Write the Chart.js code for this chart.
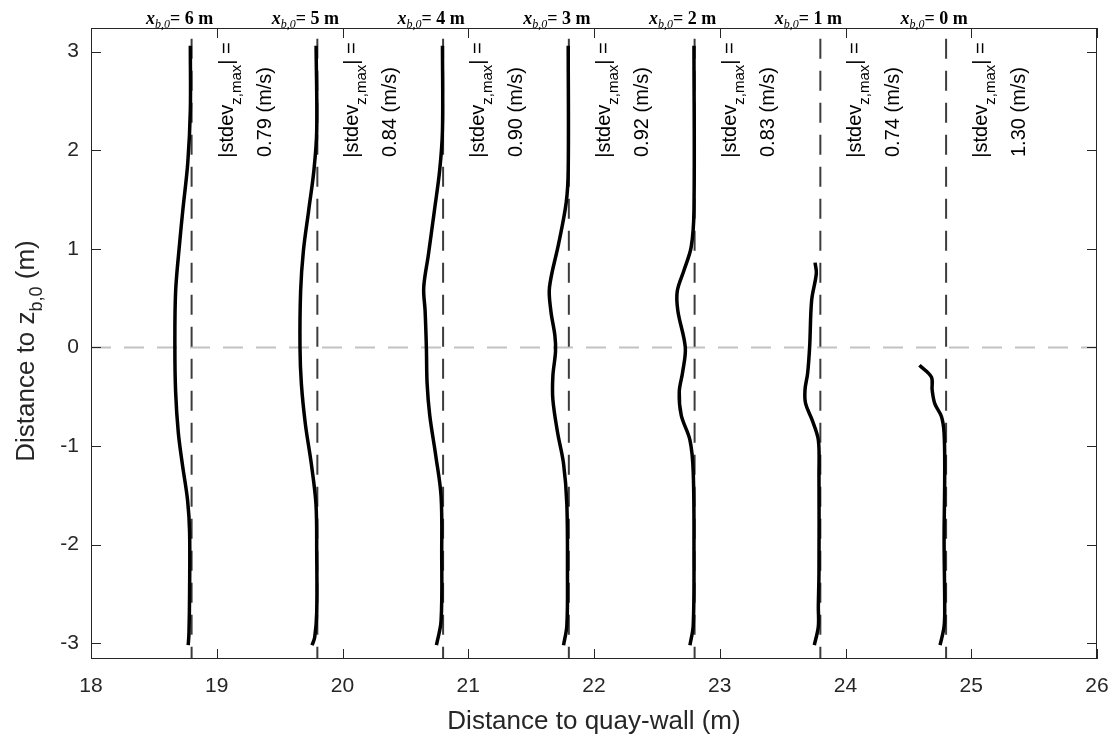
<!DOCTYPE html>
<html>
<head>
<meta charset="utf-8">
<script src="https://cdn.jsdelivr.net/npm/chart.js@4/dist/chart.umd.min.js"></script>
<style>
  body { margin: 0; background: #fff; }
  #wrap { width: 1116px; height: 740px; }
</style>
</head>
<body>
<div id="wrap"><canvas id="chart" width="1116" height="740"></canvas></div>
<script>
  /*======= data =======*/

  // x_b,0 of each profile and the dashed reference line (m)
  var xb0 = [6, 5, 4, 3, 2, 1, 0];
  var dashX = [18.8, 19.8, 20.8, 21.8, 22.8, 23.8, 24.8];
  var dashTop = 3.13, dashBottom = -3.2;
  var stdevMax = ['0.79', '0.84', '0.90', '0.92', '0.83', '0.74', '1.30'];

  // profiles: z (m) and x (m)
  var z1 = [3.06, 2.41, 1.88, 1.39, 1.06, 0.57, 0.0, -0.45, -0.86, -1.18, -1.55, -1.87, -2.49, -2.90, -3.02];
  var x1 = [18.790, 18.790, 18.770, 18.730, 18.705, 18.673, 18.667, 18.673, 18.694, 18.726, 18.768, 18.784, 18.784, 18.779, 18.773];

  var z2 = [3.06, 2.20, 1.80, 1.39, 0.98, 0.57, 0.0, -0.37, -0.78, -1.18, -1.59, -2.08, -2.69, -2.94, -3.02];
  var x2 = [19.790, 19.795, 19.773, 19.731, 19.689, 19.667, 19.662, 19.673, 19.705, 19.752, 19.789, 19.795, 19.795, 19.779, 19.758];

  var z3 = [3.06, 2.20, 1.80, 1.39, 0.94, 0.61, 0.37, 0.0, -0.37, -0.69, -1.10, -1.51, -2.08, -2.77, -3.02];
  var x3 = [20.795, 20.795, 20.773, 20.731, 20.683, 20.646, 20.657, 20.667, 20.673, 20.694, 20.742, 20.784, 20.789, 20.784, 20.747];

  var z4 = [3.06, 1.80, 1.47, 1.06, 0.61, 0.37, 0.12, -0.04, -0.29, -0.53, -0.86, -1.18, -1.59, -2.29, -2.82, -3.02];
  var x4 = [21.795, 21.795, 21.779, 21.720, 21.646, 21.657, 21.689, 21.694, 21.673, 21.673, 21.710, 21.758, 21.784, 21.789, 21.784, 21.758];

  var z5 = [3.06, 1.39, 1.02, 0.78, 0.57, 0.37, 0.0, -0.25, -0.45, -0.69, -0.94, -1.26, -2.08, -2.82, -3.02];
  var x5 = [22.795, 22.795, 22.773, 22.715, 22.662, 22.667, 22.726, 22.705, 22.678, 22.694, 22.763, 22.789, 22.795, 22.789, 22.763];

  var z6 = [0.86, 0.75, 0.48, 0.01, -0.26, -0.43, -0.57, -0.74, -0.94, -1.28, -2.29, -2.63, -2.83, -3.02];
  var x6 = [23.758, 23.768, 23.731, 23.715, 23.699, 23.678, 23.683, 23.736, 23.784, 23.789, 23.789, 23.784, 23.784, 23.752];

  var z7 = [-0.18, -0.30, -0.43, -0.57, -0.70, -0.87, -1.28, -1.95, -2.63, -2.83, -3.02];
  var x7 = [24.588, 24.683, 24.689, 24.710, 24.763, 24.784, 24.789, 24.784, 24.789, 24.784, 24.752];

  var xTicks = [18, 19, 20, 21, 22, 23, 24, 25, 26];
  var yTicks = [-3, -2, -1, 0, 1, 2, 3];
  var xRange = [18, 26], yRange = [-3.16, 3.24];

  /*======= build datasets =======*/

  var AXIS = '#262626';
  var SANS = '"Liberation Sans", Arial, sans-serif';
  var SERIF = '"Liberation Serif", "Times New Roman", serif';

  function pts(xs, zs) {
    return xs.map(function(v, i) { return { x: v, y: zs[i] }; });
  }

  var datasets = [];
  var profiles = [[x1, z1], [x2, z2], [x3, z3], [x4, z4], [x5, z5], [x6, z6], [x7, z7]];
  profiles.forEach(function(p) {
    datasets.push({
      data: pts(p[0], p[1]),
      borderColor: '#000',
      borderWidth: 3.5,
      tension: 0.35,
      pointRadius: 0,
      order: 1
    });
  });
  dashX.forEach(function(v) {
    datasets.push({
      data: [{ x: v, y: dashTop }, { x: v, y: dashBottom }],
      borderColor: '#3c3c3c',
      borderWidth: 2,
      borderDash: [20, 12],
      pointRadius: 0,
      order: 2
    });
  });
  datasets.push({
    data: [{ x: xRange[0], y: 0 }, { x: xRange[1], y: 0 }],
    borderColor: '#c2c2c2',
    borderWidth: 2,
    borderDash: [20, 13],
    pointRadius: 0,
    order: 3
  });

  /*======= text helper (sub-scripts) =======*/

  function richWidth(ctx, parts) {
    var w = 0;
    parts.forEach(function(p) { ctx.font = p.f; w += ctx.measureText(p.t).width; });
    return w;
  }
  function drawRich(ctx, parts, x, y, rot) {
    ctx.save();
    ctx.translate(x, y);
    ctx.rotate(rot || 0);
    ctx.textBaseline = 'alphabetic';
    ctx.textAlign = 'left';
    var cx = -richWidth(ctx, parts) / 2;
    parts.forEach(function(p) {
      ctx.font = p.f;
      ctx.fillText(p.t, cx, p.dy || 0);
      cx += ctx.measureText(p.t).width;
    });
    ctx.restore();
  }

  /*======= frame, inward ticks, labels =======*/

  var decor = {
    id: 'decor',
    afterDatasetsDraw: function(chart) {
      var ctx = chart.ctx, a = chart.chartArea;
      var xs = chart.scales.x, ys = chart.scales.y;
      ctx.save();
      ctx.strokeStyle = AXIS;
      ctx.lineWidth = 1;
      ctx.strokeRect(a.left + 0.5, a.top + 0.5, a.right - a.left - 1, a.bottom - a.top - 1);
      ctx.beginPath();
      xTicks.forEach(function(v) {
        var px = Math.round(xs.getPixelForValue(v)) + 0.5;
        ctx.moveTo(px, a.bottom); ctx.lineTo(px, a.bottom - 10);
        ctx.moveTo(px, a.top); ctx.lineTo(px, a.top + 10);
      });
      yTicks.forEach(function(v) {
        var py = Math.round(ys.getPixelForValue(v)) + 0.5;
        ctx.moveTo(a.left, py); ctx.lineTo(a.left + 10, py);
        ctx.moveTo(a.right, py); ctx.lineTo(a.right - 10, py);
      });
      ctx.stroke();

      ctx.fillStyle = '#000';
      dashX.forEach(function(v, i) {
        var bx = xs.getPixelForValue(v);
        // top label  x_b,0 = n m
        drawRich(ctx, [
          { t: 'x', f: 'italic bold 18px ' + SERIF },
          { t: 'b,0', f: 'italic 12px ' + SERIF, dy: 4 },
          { t: '= ' + xb0[i] + ' m', f: 'bold 18px ' + SERIF }
        ], bx - 12, a.top - 4, 0);
        // vertical annotations
        drawRich(ctx, [
          { t: '|stdev', f: '20px ' + SANS },
          { t: 'z,max', f: '15px ' + SANS, dy: 8 },
          { t: '| =', f: '20px ' + SANS }
        ], bx + 41, a.top + 72, -Math.PI / 2);
        drawRich(ctx, [
          { t: stdevMax[i] + ' (m/s)', f: '20px ' + SANS }
        ], bx + 79, a.top + 84, -Math.PI / 2);
      });

      // axis titles
      ctx.fillStyle = AXIS;
      drawRich(ctx, [{ t: 'Distance to quay-wall (m)', f: '26px ' + SANS }],
        (a.left + a.right) / 2, 729, 0);
      drawRich(ctx, [
        { t: 'Distance to z', f: '26px ' + SANS },
        { t: 'b,0', f: '18px ' + SANS, dy: 8 },
        { t: ' (m)', f: '26px ' + SANS }
      ], 34, 351, -Math.PI / 2);
      ctx.restore();
    }
  };

  /*======= chart =======*/

  var ctx = document.getElementById('chart');
  var myChart = new Chart(ctx, {
    type: 'line',
    data: { datasets: datasets },
    options: {
      responsive: false,
      animation: false,
      devicePixelRatio: 1,
      layout: { padding: { left: 0, top: 28, right: 19, bottom: 0 } },
      plugins: { legend: { display: false }, tooltip: { enabled: false } },
      scales: {
        x: {
          type: 'linear',
          min: xRange[0], max: xRange[1],
          afterBuildTicks: function(s) { s.ticks = xTicks.map(function(v) { return { value: v }; }); },
          afterFit: function(s) { s.height = 81; s.paddingLeft = 0; s.paddingRight = 0; },
          grid: { display: false, drawTicks: false },
          border: { display: false },
          ticks: { color: AXIS, font: { family: SANS, size: 21 }, padding: 15, maxRotation: 0 }
        },
        y: {
          type: 'linear',
          min: yRange[0], max: yRange[1],
          afterBuildTicks: function(s) { s.ticks = yTicks.map(function(v) { return { value: v }; }); },
          afterFit: function(s) { s.width = 91; s.paddingTop = 0; s.paddingBottom = 0; },
          grid: { display: false, drawTicks: false },
          border: { display: false },
          ticks: { color: AXIS, font: { family: SANS, size: 21 }, padding: 12 }
        }
      }
    },
    plugins: [decor]
  });
</script>
</body>
</html>
